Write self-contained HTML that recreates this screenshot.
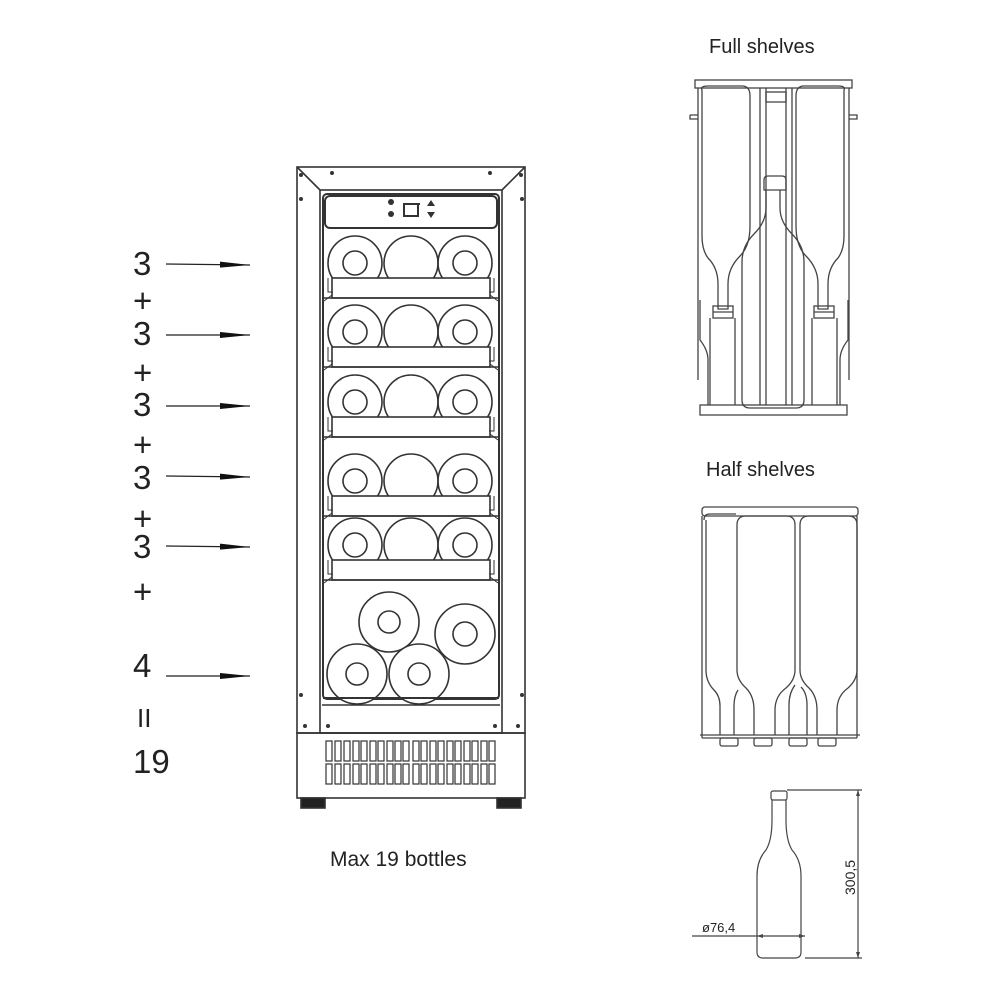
<!DOCTYPE html>
<html><head><meta charset="utf-8"><style>
html,body{margin:0;padding:0;background:#fff;width:1000px;height:1000px;overflow:hidden}
svg{display:block}
text{font-family:"Liberation Sans",sans-serif;fill:#222}
</style></head><body>
<svg width="1000" height="1000" viewBox="0 0 1000 1000" xmlns="http://www.w3.org/2000/svg">
<defs>
<marker id="ah" viewBox="0 0 30 8" refX="30" refY="4" markerWidth="30" markerHeight="8" markerUnits="userSpaceOnUse" orient="auto"><path d="M0,1 L30,4 L0,7 z" fill="#111"/></marker>
<g id="row" fill="none" stroke="#333" stroke-width="1.6">
<circle cx="355" cy="0" r="27"/><circle cx="355" cy="0" r="12"/>
<circle cx="411" cy="0" r="27"/>
<circle cx="465" cy="0" r="27"/><circle cx="465" cy="0" r="12"/>
<rect x="332" y="15" width="158" height="20" fill="#fff"/>
<line x1="322" y1="35" x2="500" y2="35"/>
<path d="M328,15 v14 h5 M494,15 v14 h-5" stroke-width="1"/>
<path d="M324,38 l8,-6 M498,38 l-8,-6" stroke-width="1"/>
</g>
</defs>

<!-- left labels -->
<g font-size="33">
<text x="133" y="275">3</text><text x="133" y="312">+</text>
<text x="133" y="345">3</text><text x="133" y="384">+</text>
<text x="133" y="416">3</text><text x="133" y="456">+</text>
<text x="133" y="489">3</text><text x="133" y="530">+</text>
<text x="133" y="558">3</text><text x="133" y="603">+</text>
<text x="133" y="677">4</text>
<text x="137" y="727" font-size="26">II</text>
<text x="133" y="773">19</text>
</g>
<g stroke="#222" stroke-width="1.3" marker-end="url(#ah)">
<line x1="166" y1="264" x2="250" y2="265"/>
<line x1="166" y1="335" x2="250" y2="335"/>
<line x1="166" y1="406" x2="250" y2="406"/>
<line x1="166" y1="476" x2="250" y2="477"/>
<line x1="166" y1="546" x2="250" y2="547"/>
<line x1="166" y1="676" x2="250" y2="676"/>
</g>

<!-- fridge -->
<g fill="none" stroke="#333" stroke-width="1.6">
<rect x="297" y="167" width="228" height="566"/>
<rect x="320" y="190" width="182" height="543"/>
<line x1="297" y1="167" x2="320" y2="190"/><line x1="525" y1="167" x2="502" y2="190"/>
<rect x="323" y="194" width="176" height="505" rx="4" stroke-width="2"/>
<line x1="322" y1="705" x2="500" y2="705"/>
<rect x="325" y="196" width="172" height="32" rx="5" stroke-width="2"/>
<rect x="297" y="733" width="228" height="65"/>
<rect x="301" y="798" width="24" height="10" fill="#222"/>
<rect x="497" y="798" width="24" height="10" fill="#222"/>
</g>
<g fill="#333">
<circle cx="301" cy="175" r="2"/><circle cx="332" cy="173" r="2"/><circle cx="490" cy="173" r="2"/><circle cx="521" cy="175" r="2"/>
<circle cx="301" cy="199" r="2"/><circle cx="522" cy="199" r="2"/>
<circle cx="301" cy="695" r="2"/><circle cx="522" cy="695" r="2"/>
<circle cx="305" cy="726" r="2"/><circle cx="328" cy="726" r="2"/><circle cx="495" cy="726" r="2"/><circle cx="518" cy="726" r="2"/>
<circle cx="391" cy="202" r="3"/><circle cx="391" cy="214" r="3"/>
<path d="M427,206 l4,-6 l4,6z M427,212 l4,6 l4,-6z"/>
</g>
<rect x="404" y="204" width="14" height="12" fill="none" stroke="#333" stroke-width="2"/>
<line x1="412" y1="204" x2="420" y2="204" stroke="#333" stroke-width="2"/>
<use href="#row" y="263"/>
<use href="#row" y="332"/>
<use href="#row" y="402"/>
<use href="#row" y="481"/>
<use href="#row" y="545"/>
<g fill="#fff" stroke="#333" stroke-width="1.6">
<circle cx="389" cy="622" r="30"/><circle cx="389" cy="622" r="11"/>
<circle cx="465" cy="634" r="30"/><circle cx="465" cy="634" r="12"/>
<circle cx="357" cy="674" r="30"/><circle cx="357" cy="674" r="11"/>
<circle cx="419" cy="674" r="30"/><circle cx="419" cy="674" r="11"/>
</g>
<line x1="323" y1="698" x2="499" y2="698" stroke="#333" stroke-width="2"/>
<!-- vents -->
<g fill="none" stroke="#333" stroke-width="1.2">
<g id="vr">
<rect x="326" y="741" width="6" height="20"/><rect x="335" y="741" width="6" height="20"/><rect x="344" y="741" width="6" height="20"/><rect x="353" y="741" width="6" height="20"/><rect x="361" y="741" width="6" height="20"/><rect x="370" y="741" width="6" height="20"/><rect x="378" y="741" width="6" height="20"/><rect x="387" y="741" width="6" height="20"/><rect x="395" y="741" width="6" height="20"/><rect x="403" y="741" width="6" height="20"/><rect x="413" y="741" width="6" height="20"/><rect x="421" y="741" width="6" height="20"/><rect x="430" y="741" width="6" height="20"/><rect x="438" y="741" width="6" height="20"/><rect x="447" y="741" width="6" height="20"/><rect x="455" y="741" width="6" height="20"/><rect x="464" y="741" width="6" height="20"/><rect x="472" y="741" width="6" height="20"/><rect x="481" y="741" width="6" height="20"/><rect x="489" y="741" width="6" height="20"/>
</g>
<use href="#vr" y="23"/>
</g>
<text x="330" y="866" font-size="21">Max 19 bottles</text>

<!-- Full shelves -->
<text x="709" y="53" font-size="20">Full  shelves</text>
<g fill="none" stroke="#444" stroke-width="1.3">
<rect x="695" y="80" width="157" height="8"/>
<rect x="700" y="405" width="147" height="10"/>
<line x1="698" y1="88" x2="698" y2="380"/><line x1="849" y1="88" x2="849" y2="380"/>
<path d="M690,115 h8 M690,115 v4 h8 M849,115 h8 v4 h-8"/>
<path d="M702,90 q-2,-4 6,-4 h34 q8,0 8,10 v130 q0,20 -10,30 q-12,12 -12,28 v25 h-10 v-25 q0,-16 -10,-26 q-6,-8 -6,-22 z"/>
<path d="M844,90 q2,-4 -6,-4 h-34 q-8,0 -8,10 v130 q0,20 10,30 q12,12 12,28 v25 h10 v-25 q0,-16 10,-26 q6,-8 6,-22 z"/>
<rect x="713" y="306" width="20" height="12"/><rect x="814" y="306" width="20" height="12"/>
<line x1="713" y1="312" x2="733" y2="312"/><line x1="814" y1="312" x2="834" y2="312"/>
<path d="M760,88 v317 M766,88 v317 M786,88 v317 M792,88 v317"/>
<rect x="766" y="92" width="20" height="10"/>
<path d="M764,180 q0,-4 4,-4 h14 q4,0 4,4 v10 h-22z"/>
<path d="M766,190 v18 q0,14 -12,26 q-12,12 -12,28 v138 q0,8 8,8 h46 q8,0 8,-8 v-138 q0,-16 -12,-28 q-12,-12 -12,-26 v-18"/>
<path d="M700,300 v40 q8,10 8,20 v45 M848,300 v40 q-8,10 -8,20 v45"/>
<path d="M710,318 v87 M735,318 v87 M812,318 v87 M837,318 v87"/>
</g>

<!-- Half shelves -->
<text x="706" y="476" font-size="20">Half shelves</text>
<g fill="none" stroke="#444" stroke-width="1.3">
<rect x="702" y="507" width="156" height="9" rx="3"/>
<path d="M702,516 v222 M857,516 v222"/>
<line x1="700" y1="735" x2="860" y2="735"/>
<line x1="702" y1="738" x2="857" y2="738"/>
<!-- bottle 1 (partial) -->
<path d="M704,520 q0,-6 6,-6 h26 M706,520 v150 q0,12 8,20 q6,6 6,16 v29 M738,690 q-4,6 -4,16 v29"/>
<!-- bottle 2 -->
<path d="M737,525 q0,-9 9,-9 h40 q9,0 9,9 v145 q0,10 -9,18 q-11,8 -11,22 v25 M737,525 v145 q0,10 9,18 q8,8 8,22 v25"/>
<!-- bottle 3 -->
<path d="M800,525 q0,-9 9,-9 h39 q9,0 9,9 v145 q0,10 -9,18 q-11,8 -11,22 v25 M800,525 v145 q0,10 9,18 q8,8 8,22 v25"/>
<!-- hidden bottle neck -->
<path d="M789,735 v-30 q0,-12 6,-20 M807,735 v-30 q0,-12 -6,-18"/>
<rect x="720" y="738" width="18" height="8" rx="2"/><rect x="754" y="738" width="18" height="8" rx="2"/><rect x="789" y="738" width="18" height="8" rx="2"/><rect x="818" y="738" width="18" height="8" rx="2"/>
</g>

<!-- Bottle with dimensions -->
<g fill="none" stroke="#444" stroke-width="1.2">
<rect x="771" y="791" width="16" height="9" rx="2"/>
<path d="M772,800 v20 q0,20 -6,30 q-9,10 -9,26 v76 q0,6 6,6 h32 q6,0 6,-6 v-76 q0,-16 -9,-26 q-6,-10 -6,-30 v-20"/>
<line x1="787" y1="790" x2="862" y2="790"/>
<line x1="805" y1="958" x2="862" y2="958"/>
<line x1="858" y1="790" x2="858" y2="958"/>
<line x1="692" y1="936" x2="805" y2="936"/>
</g>
<path d="M858,790 l-2,6 h4z M858,958 l-2,-6 h4z M757,936 l6,-2 v4z M805,936 l-6,-2 v4z" fill="#444"/>
<text x="702" y="932" font-size="13">ø76,4</text>
<text x="0" y="0" font-size="14" transform="translate(855,895) rotate(-90)">300,5</text>
</svg>
</body></html>
